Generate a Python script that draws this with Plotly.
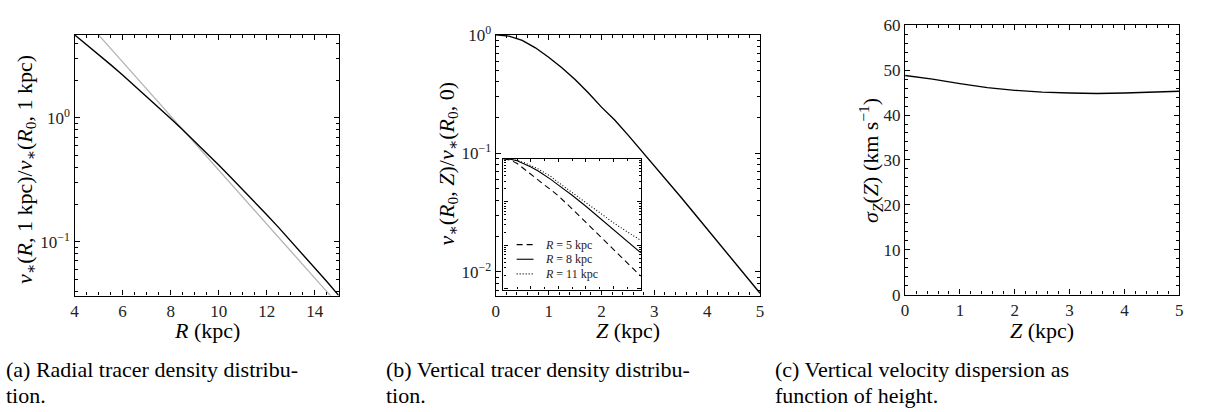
import plotly.graph_objects as go

# ---------------- data ----------------
# (a) radial tracer density, normalised at R0
R_kpc = [4.0, 4.5, 5.0, 5.5, 6.0, 6.5, 7.0, 7.5, 8.0, 8.5, 9.0, 9.5, 10.0,
         10.5, 11.0, 11.5, 12.0, 12.5, 13.0, 13.5, 14.0, 14.5, 15.0]
nu_R = [4.69, 3.91, 3.25, 2.69, 2.22, 1.82, 1.49, 1.22, 0.99, 0.80, 0.647,
        0.520, 0.416, 0.332, 0.264, 0.209, 0.165, 0.130, 0.1015, 0.0792,
        0.0616, 0.0477, 0.0368]
R_ref = [5.0, 6.0, 7.0, 8.0, 9.0, 10.0, 11.0, 12.0, 13.0, 14.0, 15.0]
nu_R_ref = [4.67, 2.82, 1.71, 1.035, 0.627, 0.379, 0.230, 0.139, 0.0841,
            0.0509, 0.0308]

# (b) vertical tracer density at R0
Z_kpc = [0.0, 0.25, 0.5, 0.75, 1.0, 1.25, 1.5, 1.75, 2.0, 2.25, 2.5, 2.75,
         3.0, 3.25, 3.5, 3.75, 4.0, 4.25, 4.5, 4.75, 5.0]
nu_Z = [1.0, 0.973, 0.895, 0.776, 0.646, 0.527, 0.419, 0.324, 0.245, 0.191,
        0.143, 0.106, 0.0794, 0.0582, 0.0427, 0.0313, 0.0229, 0.0168,
        0.0123, 0.0090, 0.0066]

# inset: vertical profiles at three radii
Z_inset = [0.0, 0.25, 0.5, 0.75, 1.0, 1.25, 1.5, 1.75, 2.0, 2.5, 3.0, 3.5,
           4.0, 4.5, 5.0]
nu_Z_R5 = [1.0, 0.933, 0.776, 0.575, 0.427, 0.324, 0.245, 0.186, 0.138,
           0.0692, 0.0339, 0.0166, 0.00813, 0.00398, 0.00191]
nu_Z_R8 = [1.0, 0.973, 0.895, 0.776, 0.646, 0.527, 0.419, 0.324, 0.245,
           0.143, 0.0794, 0.0427, 0.0229, 0.0123, 0.0066]
nu_Z_R11 = [1.0, 0.980, 0.912, 0.813, 0.692, 0.590, 0.468, 0.380, 0.282,
            0.166, 0.0955, 0.0550, 0.0331, 0.0204, 0.0129]
inset_labels = ["<i>R</i> = 5 kpc", "<i>R</i> = 8 kpc", "<i>R</i> = 11 kpc"]
inset_dashes = ["6px,4px", "solid", "1px,2px"]

# (c) vertical velocity dispersion
Z_sig = [0.0, 0.5, 1.0, 1.5, 2.0, 2.5, 3.0, 3.5, 4.0, 4.5, 5.0]
sigma_Z = [48.8, 48.0, 47.0, 46.1, 45.5, 45.1, 44.9, 44.8, 44.9, 45.05, 45.3]

captions = [
    ["(a) Radial tracer density distribu-", "tion."],
    ["(b) Vertical tracer density distribu-", "tion."],
    ["(c) Vertical velocity dispersion as", "function of height."],
]

# ---------------- figure ----------------
W, H = 1230, 412
SERIF = "Liberation Serif, DejaVu Serif, serif"


def px_x(x):
    return x / W


def px_y(y):
    return 1 - y / H


def log_minor(lo, hi):
    vals = []
    for e in range(lo, hi):
        for m in range(2, 10):
            vals.append(m * 10 ** e)
    return vals


fig = go.Figure()

fig.add_trace(go.Scatter(x=R_ref, y=nu_R_ref, mode="lines",
                         line=dict(color="#b4b4b4", width=1.3),
                         xaxis="x", yaxis="y", showlegend=False))
fig.add_trace(go.Scatter(x=R_kpc, y=nu_R, mode="lines",
                         line=dict(color="black", width=1.4),
                         xaxis="x", yaxis="y", showlegend=False))

fig.add_trace(go.Scatter(x=Z_kpc, y=nu_Z, mode="lines",
                         line=dict(color="black", width=1.4),
                         xaxis="x2", yaxis="y2", showlegend=False))

for vals, lab, dash in zip([nu_Z_R5, nu_Z_R8, nu_Z_R11], inset_labels,
                           inset_dashes):
    fig.add_trace(go.Scatter(x=Z_inset, y=vals, mode="lines", name=lab,
                             line=dict(color="black", width=1.1, dash=dash),
                             xaxis="x4", yaxis="y4", showlegend=False))

fig.add_trace(go.Scatter(x=Z_sig, y=sigma_Z, mode="lines",
                         line=dict(color="black", width=1.4),
                         xaxis="x3", yaxis="y3", showlegend=False))

frame = dict(showline=True, linecolor="black", linewidth=1.3, mirror="allticks",
             ticks="inside", ticklen=5, tickwidth=1, tickcolor="black",
             showgrid=False, zeroline=False, ticklabelstandoff=0,
             tickfont=dict(family=SERIF, size=17, color="#222"))

fig.update_layout(
    xaxis=dict(frame, domain=[px_x(71), px_x(337)], anchor="y", range=[4, 15],
               tickvals=[4, 6, 8, 10, 12, 14],
               minor=dict(ticks="inside", ticklen=3, dtick=0.5, tickcolor="black")),
    yaxis=dict(frame, domain=[px_y(299.5), px_y(24)], anchor="x", type="log",
               range=[-1.434, 0.671], tickvals=[0.1, 1],
               ticktext=["10<sup>−1</sup>", "10<sup>0</sup>"],
               minor=dict(ticks="inside", ticklen=3, tickcolor="black",
                          tickvals=log_minor(-2, 1))),
    xaxis2=dict(frame, domain=[px_x(495), px_x(761)], anchor="y2", range=[0, 5],
                tickvals=[0, 1, 2, 3, 4, 5],
                minor=dict(ticks="inside", ticklen=3, dtick=0.2, tickcolor="black")),
    yaxis2=dict(frame, domain=[px_y(299.5), px_y(24)], anchor="x2", type="log",
                range=[-2.2, 0], tickvals=[0.01, 0.1, 1],
                ticktext=["10<sup>−2</sup>", "10<sup>−1</sup>", "10<sup>0</sup>"],
                minor=dict(ticks="inside", ticklen=3, tickcolor="black",
                           tickvals=log_minor(-3, 0))),
    xaxis4=dict(frame, domain=[px_x(502.7), px_x(641)], anchor="y4", range=[0, 5],
                showticklabels=False, ticklen=3, dtick=1,
                minor=dict(ticks="inside", ticklen=2, dtick=0.5, tickcolor="black")),
    yaxis4=dict(frame, domain=[px_y(293.3), px_y(155)], anchor="x4", type="log",
                range=[-3.03, 0], showticklabels=False, ticklen=4,
                tickvals=[0.001, 0.01, 0.1, 1],
                minor=dict(ticks="inside", ticklen=2, tickcolor="black",
                           tickvals=log_minor(-4, 0))),
    xaxis3=dict(frame, domain=[px_x(907), px_x(1183)], anchor="y3", range=[0, 5],
                tickvals=[0, 1, 2, 3, 4, 5],
                minor=dict(ticks="inside", ticklen=3, dtick=0.2, tickcolor="black")),
    yaxis3=dict(frame, domain=[px_y(298.5), px_y(14)], anchor="x3", range=[0, 60],
                tickvals=[0, 10, 20, 30, 40, 50, 60],
                minor=dict(ticks="inside", ticklen=3, dtick=2, tickcolor="black")),
)

fig.update_layout(
    width=W, height=H, autosize=False,
    margin=dict(l=0, r=0, t=0, b=0),
    paper_bgcolor="white", plot_bgcolor="white",
    font=dict(family=SERIF, color="black"),
    showlegend=False,
)

# inset key: short line samples with their labels
key_rows = [245.7, 261.2, 276.7]
for row, lab, dash in zip(key_rows, inset_labels, inset_dashes):
    fig.add_shape(type="line", xref="paper", yref="paper",
                  x0=px_x(516), x1=px_x(533), y0=px_y(row), y1=px_y(row),
                  line=dict(color="black", width=1.1, dash=dash))
    fig.add_annotation(xref="paper", yref="paper", showarrow=False,
                       x=px_x(544), y=px_y(row), xanchor="left", yanchor="middle",
                       text=lab, borderpad=0,
                       font=dict(family=SERIF, size=12, color="#222"))

# axis titles
titles = [
    dict(x=px_x(204), y=px_y(336), text="<i>R</i> (kpc)", textangle=0),
    dict(x=px_x(628), y=px_y(336), text="<i>Z</i> (kpc)", textangle=0),
    dict(x=px_x(1045), y=px_y(336), text="<i>Z</i> (kpc)", textangle=0),
    dict(x=px_x(22), y=px_y(166),
         text="<i>ν</i><sub>∗</sub>(<i>R</i>, 1 kpc)/<i>ν</i><sub>∗</sub>(<i>R</i><sub>0</sub>, 1 kpc)",
         textangle=-90),
    dict(x=px_x(447), y=px_y(161),
         text="<i>ν</i><sub>∗</sub>(<i>R</i><sub>0</sub>, <i>Z</i>)/<i>ν</i><sub>∗</sub>(<i>R</i><sub>0</sub>, 0)",
         textangle=-90),
    dict(x=px_x(872), y=px_y(157),
         text="<i>σ</i><sub><i>Z</i></sub>(<i>Z</i>) (km s<sup>−1</sup>)",
         textangle=-90),
]
for t in titles:
    fig.add_annotation(xref="paper", yref="paper", showarrow=False,
                       xanchor="center", yanchor="middle", borderpad=0,
                       font=dict(family=SERIF, size=22, color="black"), **t)

# sub-figure captions
cap_x = [1, 383, 775]
for cx, lines in zip(cap_x, captions):
    for i, line in enumerate(lines):
        fig.add_annotation(xref="paper", yref="paper", showarrow=False,
                           x=px_x(cx), y=px_y(378 + 27 * i), borderpad=0,
                           xanchor="left", yanchor="middle", text=line,
                           font=dict(family=SERIF, size=22, color="black"))

fig.write_html("out.html")
